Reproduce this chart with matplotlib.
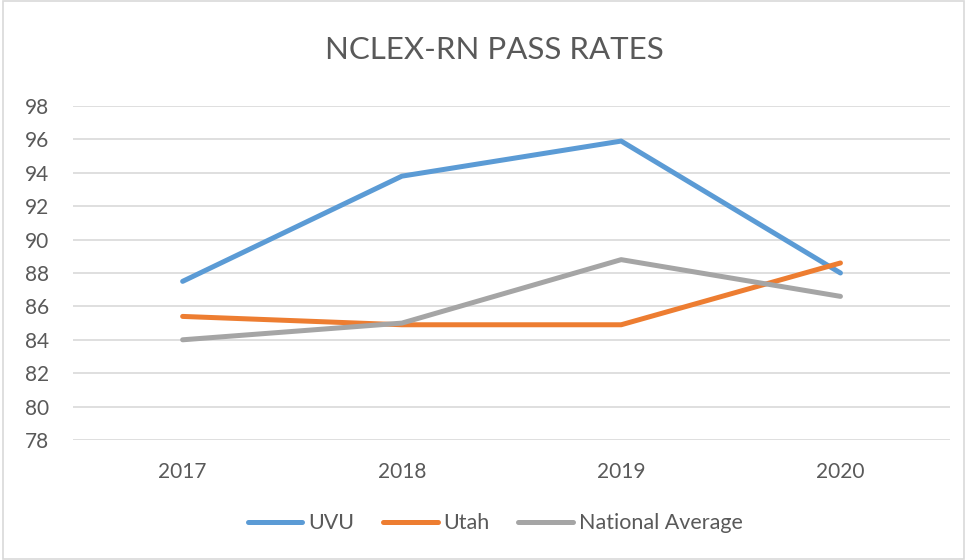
import matplotlib as mpl
mpl.use('agg')
import matplotlib.pyplot as plt
from matplotlib.patches import Rectangle

years = ['2017', '2018', '2019', '2020']
uvu = [87.5, 93.8, 95.9, 88.0]
utah = [85.4, 84.9, 84.9, 88.6]
national = [84.0, 85.0, 88.8, 86.6]
series_names = ['UVU', 'Utah', 'National Average']
colors = ['#5B9BD5', '#ED7D31', '#A5A5A5']

plt.rcParams['font.family'] = ['Lato', 'DejaVu Sans']
text_color = '#595959'

fig = plt.figure(figsize=(9.67, 5.6), dpi=100)
ax = fig.add_axes([0.0755, 0.2143, 0.907, 0.5964])

x = range(len(years))
for vals, name, c in zip([uvu, utah, national], series_names, colors):
    ax.plot(x, vals, color=c, lw=3.6, label=name,
            solid_capstyle='round', solid_joinstyle='round')

ax.set_xlim(-0.5, 3.5)
ax.set_ylim(78, 98)
ax.set_yticks(range(78, 99, 2))
ax.set_xticks(list(x))
ax.set_xticklabels(years)
ax.grid(axis='y', color='#D9D9D9', lw=1.2)
ax.set_axisbelow(True)
for s in ax.spines.values():
    s.set_visible(False)
ax.tick_params(length=0, labelsize=15, colors=text_color)
ax.tick_params(axis='y', pad=17)
ax.tick_params(axis='x', pad=16)

fig.text(0.511, 0.91, 'NCLEX-RN PASS RATES', ha='center', va='center',
         fontsize=22.5, color=text_color)

leg = fig.legend(loc='center', bbox_to_anchor=(0.512, 0.066), ncol=3,
                 frameon=False, fontsize=15.5, handlelength=2.55,
                 handletextpad=0.25, columnspacing=1.35)
for t in leg.get_texts():
    t.set_color(text_color)
for h in leg.get_lines():
    h.set_solid_capstyle('round')

fig.patches.append(Rectangle((0.003, 0.002), 0.994, 0.996, transform=fig.transFigure,
                             fill=False, edgecolor='#D9D9D9', lw=1.2))

fig.savefig('out.png', dpi=100)
